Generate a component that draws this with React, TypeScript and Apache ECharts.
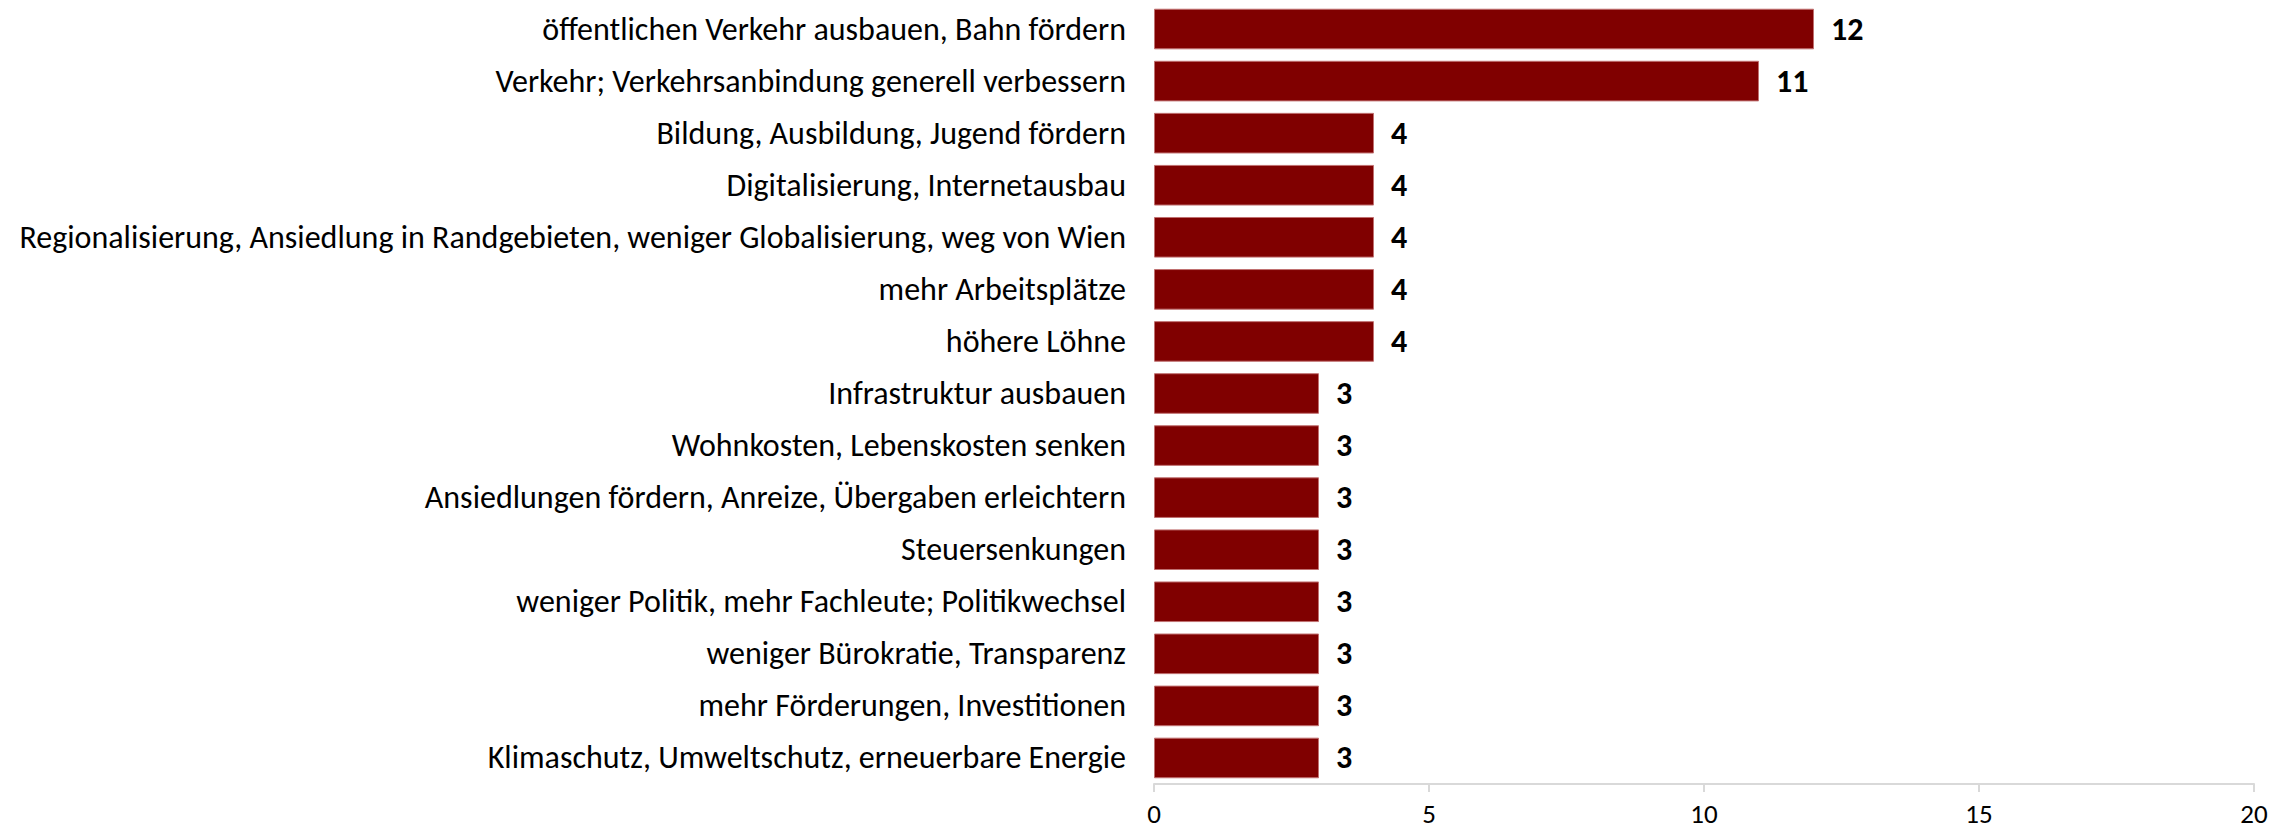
import React, { useEffect, useRef } from "react";
import * as echarts from "echarts";

const categories: string[] = [
  "öffentlichen Verkehr ausbauen, Bahn fördern",
  "Verkehr; Verkehrsanbindung generell verbessern",
  "Bildung, Ausbildung, Jugend fördern",
  "Digitalisierung, Internetausbau",
  "Regionalisierung, Ansiedlung in Randgebieten, weniger Globalisierung, weg von Wien",
  "mehr Arbeitsplätze",
  "höhere Löhne",
  "Infrastruktur ausbauen",
  "Wohnkosten, Lebenskosten senken",
  "Ansiedlungen fördern, Anreize, Übergaben erleichtern",
  "Steuersenkungen",
  "weniger Politik, mehr Fachleute; Politikwechsel",
  "weniger Bürokratie, Transparenz",
  "mehr Förderungen, Investitionen",
  "Klimaschutz, Umweltschutz, erneuerbare Energie",
];

const values: number[] = [12, 11, 4, 4, 4, 4, 4, 3, 3, 3, 3, 3, 3, 3, 3];

const axisMin = 0;
const axisMax = 20;
const axisInterval = 5;

const FONT = 'Calibri, Carlito, "Open Sans", sans-serif';

export default function App() {
  const ref = useRef<HTMLDivElement>(null);

  useEffect(() => {
    document.body.style.margin = "0";
    if (!ref.current) return;
    const chart = echarts.init(ref.current, undefined, { renderer: "svg" });
    chart.setOption({
      animation: false,
      backgroundColor: "#ffffff",
      grid: { left: 1154, right: 36, top: 3, bottom: 48, containLabel: false },
      xAxis: {
        type: "value",
        min: axisMin,
        max: axisMax,
        interval: axisInterval,
        axisLine: { show: true, lineStyle: { color: "#d9d9d9", width: 2 } },
        axisTick: { show: true, length: 8, lineStyle: { color: "#d9d9d9", width: 2 } },
        splitLine: { show: false },
        axisLabel: { color: "#000000", fontFamily: FONT, fontSize: 27, lineHeight: 27, margin: 16 },
      },
      yAxis: {
        type: "category",
        inverse: true,
        data: categories,
        axisLine: { show: false },
        axisTick: { show: false },
        axisLabel: { color: "#000000", fontFamily: FONT, fontSize: 32, margin: 28 },
      },
      series: [
        {
          type: "bar",
          data: values,
          barCategoryGap: "22%",
          itemStyle: { color: "#800000", borderColor: "#c07070", borderWidth: 1 },
          label: {
            show: true,
            position: "right",
            distance: 17,
            color: "#000000",
            fontFamily: FONT,
            fontSize: 32,
            fontWeight: "bold",
          },
        },
      ],
    });
    return () => chart.dispose();
  }, []);

  return <div ref={ref} style={{ width: 2290, height: 832 }} />;
}
